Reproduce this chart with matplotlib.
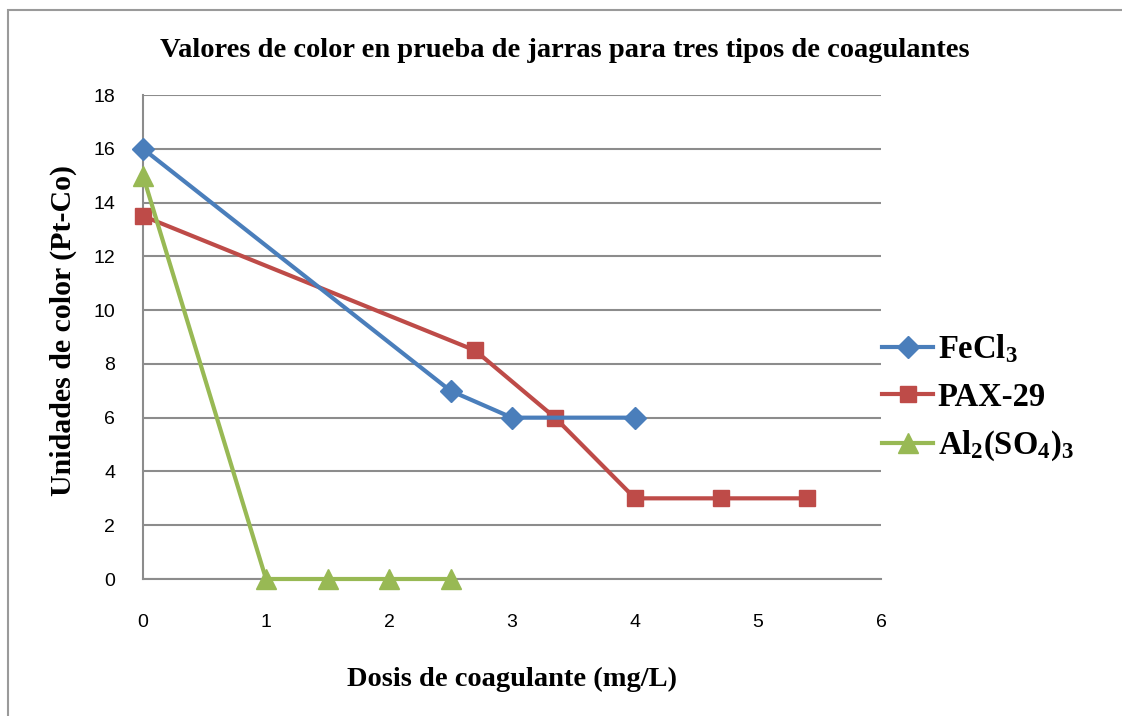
import matplotlib.pyplot as plt
from matplotlib.patches import Rectangle

# datos
fecl3_x = [0, 2.5, 3, 4]
fecl3_y = [16, 7, 6, 6]
pax_x = [0, 2.7, 3.35, 4, 4.7, 5.4]
pax_y = [13.5, 8.5, 6, 3, 3, 3]
al_x = [0, 1, 1.5, 2, 2.5]
al_y = [15, 0, 0, 0, 0]
xticks = [0, 1, 2, 3, 4, 5, 6]
yticks = [0, 2, 4, 6, 8, 10, 12, 14, 16, 18]

serif = 'Liberation Serif'
sans = 'Liberation Sans'

fig = plt.figure(figsize=(11.22, 7.16), dpi=100)
fig.patch.set_facecolor('white')

# marco del area del grafico
fig.patches.append(Rectangle((8 / 1122, -0.05), 1.2, (716 - 10) / 716 + 0.05,
                             transform=fig.transFigure, fill=False,
                             edgecolor='#9a9a9a', linewidth=1.5))

ax = fig.add_axes([143 / 1122, 1 - 579 / 716, (881 - 143) / 1122, (579 - 95) / 716])

ax.plot(fecl3_x, fecl3_y, color='#4A7EBB', lw=3, marker='D', ms=11, label=r'FeCl$\mathregular{_3}$',
        zorder=4, clip_on=False)
ax.plot(pax_x, pax_y, color='#BE4B48', lw=3, marker='s', ms=12, label='PAX-29', zorder=3, clip_on=False)
ax.plot(al_x, al_y, color='#98B954', lw=3, marker='^', ms=14,
        label=r'Al$\mathregular{_2}$(SO$\mathregular{_4}$)$\mathregular{_3}$', zorder=5, clip_on=False)

ax.set_xlim(0, 6)
ax.set_ylim(0, 18)
ax.set_xticks(xticks)
ax.set_yticks(yticks)
ax.tick_params(length=0, labelsize=14)
for t in ax.get_xticklabels() + ax.get_yticklabels():
    t.set_fontfamily(sans)
ax.tick_params(axis='y', pad=20)
ax.tick_params(axis='x', pad=25)

ax.grid(axis='y', color='#8c8c8c', lw=1.5)
ax.set_axisbelow(True)
for s in ['top', 'right']:
    ax.spines[s].set_visible(False)
for s in ['left', 'bottom']:
    ax.spines[s].set_color('#8c8c8c')
    ax.spines[s].set_linewidth(1.5)

ax.set_xlabel('Dosis de coagulante (mg/L)', fontsize=20.5, fontweight='bold', family=serif, labelpad=26)
ax.set_ylabel('Unidades de color (Pt-Co)', fontsize=21.5, fontweight='bold', family=serif)
ax.yaxis.set_label_coords(-0.09, 0.514)
fig.text(0.503, 0.93, 'Valores de color en prueba de jarras para tres tipos de coagulantes',
         ha='center', va='center', fontsize=20.5, fontweight='bold', family=serif)

fig.legend(loc='center left', bbox_to_anchor=(853 / 1122, 1 - 398 / 716), frameon=False,
           prop={'family': serif, 'weight': 'bold', 'size': 23.5}, handlelength=1.55,
           handletextpad=0.15, labelspacing=0.5)

plt.savefig('out.png', dpi=100, facecolor='white')
